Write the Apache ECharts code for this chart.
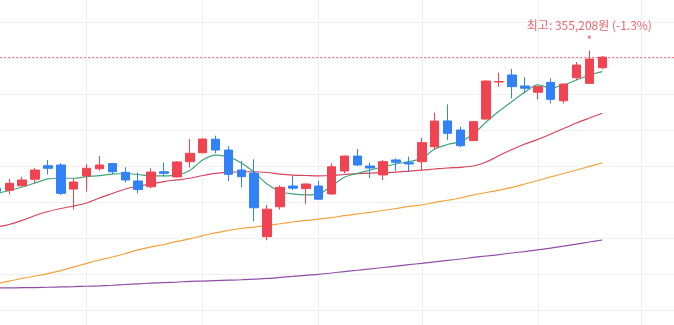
<!DOCTYPE html>
<html>
<head>
<meta charset="utf-8">
<style>
  html, body { margin: 0; padding: 0; background: #ffffff; }
  #chart { width: 674px; height: 325px; }
</style>
<script src="https://cdn.jsdelivr.net/npm/echarts@6/dist/echarts.min.js"></script>
</head>
<body>
<div id="chart"></div>
<script>
// Trading days on the x axis (a few empty days kept on the right)
const dates = [
  '07/31','08/01','08/04','08/05','08/06','08/07','08/08','08/11','08/12','08/13',
  '08/14','08/18','08/19','08/20','08/21','08/22','08/25','08/26','08/27','08/28',
  '08/29','09/01','09/02','09/03','09/04','09/05','09/08','09/09','09/10','09/11',
  '09/12','09/15','09/16','09/17','09/18','09/19','09/22','09/23','09/24','09/25',
  '09/26','09/29','09/30','10/01','10/02','10/10','10/13','10/14','10/15','10/16',
  '10/17','10/20','10/21','10/22'
];
// Days that get a vertical guide line
const guideDates = ['08/11', '08/25', '09/05', '09/17', '09/30', '10/17'];

// Daily prices (원)
const opens = [
  259500, 258100, 261300, 265800, 275200, 275700, 259000, 268100, 273100, 276700,
  270600, 264600, 260600, 271000, 267400, 278000, 284200, 293600, 286100, 272200,
  270100, 225900, 246700, 261100, 259400, 261100, 255600, 271500, 281900, 275000,
  268800, 279200, 277300, 278000, 288400, 306300, 300000, 292600, 307600, 333300,
  338200, 330600, 326200, 333100, 320300, 336300, 332400, 343300
];
const closes = [
  257500, 263000, 265300, 272200, 273400, 256000, 263900, 273400, 275700, 271000,
  265300, 258700, 270800, 269900, 277800, 283800, 293700, 286100, 269200, 267600,
  246000, 245000, 260200, 259600, 262500, 251900, 274500, 281900, 275700, 273600,
  278000, 277600, 276400, 291200, 306200, 297700, 289100, 305800, 334000, 333700,
  330100, 329000, 330100, 321300, 331900, 345100, 349300, 350590
];
const lows = [
  256000, 255300, 260900, 263000, 269200, 254900, 244800, 257200, 271700, 269400,
  263500, 256000, 259400, 267700, 267100, 274000, 283800, 283800, 264600, 260100,
  236600, 223400, 244700, 258300, 248400, 251800, 254900, 269900, 275000, 266500,
  265300, 271500, 270800, 272200, 286100, 293100, 288000, 292400, 307300, 330100,
  322000, 325500, 321300, 318500, 318500, 334700, 332100, 342200
];
const highs = [
  260500, 266000, 267600, 273600, 279200, 276900, 266500, 276400, 281900, 277100,
  274100, 270500, 273400, 277300, 278500, 293700, 294200, 296000, 288900, 278500,
  279700, 247900, 261600, 268300, 263000, 264600, 276900, 282300, 286800, 277300,
  279200, 280300, 281500, 294700, 312000, 317800, 302300, 306200, 334400, 339800,
  342400, 336600, 330200, 335900, 332300, 347200, 355208, 351400
];

// Moving averages
const ma5 = [
  255900, 258000, 260400, 263200, 266000, 266500, 266500, 267600, 268300, 269400,
  269800, 269100, 268100, 268100, 268800, 271900, 279200, 282600, 281300, 277100,
  270600, 262500, 257300, 255600, 254900, 255600, 261100, 267200, 269900, 272200,
  274500, 276400, 278000, 280300, 286800, 289900, 291900, 297200, 305600, 313200,
  319800, 326400, 331300, 329200, 331300, 334700, 338200, 340500
];
const ma20 = [
  232600, 234400, 237200, 240600, 243400, 245500, 247200, 249300, 252800, 255900,
  259000, 261100, 262500, 264200, 265300, 266500, 268400, 269900, 270600, 271000,
  271000, 270500, 269400, 268700, 268400, 268100, 268400, 269100, 269700, 270100,
  270300, 270800, 271500, 272200, 272900, 273600, 274100, 275000, 277800, 282300,
  286500, 290300, 293500, 297200, 301000, 304900, 308300, 311600
];
const ma60 = [
  193100, 195100, 196900, 198600, 200300, 202400, 204900, 207400, 209700, 211800,
  214200, 216700, 218800, 220500, 222600, 224400, 226700, 228500, 230300, 231600,
  232600, 233800, 234900, 236100, 237200, 238100, 239200, 240500, 241700, 242800,
  244100, 245500, 246900, 247900, 249700, 251200, 252800, 254900, 256600, 258300,
  260200, 262500, 264900, 267400, 269800, 272200, 274700, 277100
];
const ma120 = [
  190300, 190350, 190500, 190600, 190800, 191000, 191200, 191500, 191800, 192200,
  192700, 193200, 193600, 194000, 194400, 194900, 195100, 195400, 195700, 196000,
  196500, 196900, 197600, 198300, 199100, 199800, 200700, 201700, 202600, 203500,
  204500, 205500, 206500, 207400, 208400, 209400, 210400, 211500, 212500, 213500,
  214600, 215600, 216700, 218000, 219300, 220700, 222200, 223600
];

const UP = '#f04452';
const DOWN = '#3182f6';
const NOTE = '#e56a74';

const candles = opens.map((o, i) => [o, closes[i], lows[i], highs[i]]);

// Highest high and its distance from the latest close
let hiIdx = 0;
highs.forEach((h, i) => { if (h > highs[hiIdx]) hiIdx = i; });
const hiVal = highs[hiIdx];
const lastClose = closes[closes.length - 1];
const pct = (lastClose - hiVal) / hiVal * 100;
const hiText = '최고: ' + hiVal.toLocaleString('ko-KR') + '원 (' + pct.toFixed(1) + '%)';

function maLine(name, data, color) {
  return {
    name: name,
    type: 'line',
    data: data,
    symbol: 'none',
    smooth: 0.3,
    z: 2,
    silent: true,
    lineStyle: { color: color, width: 1.2 }
  };
}

const chart = echarts.init(document.getElementById('chart'), null, { renderer: 'canvas' });
chart.setOption({
  animation: false,
  backgroundColor: '#ffffff',
  textStyle: { fontFamily: '"Noto Sans CJK KR", "Noto Sans", sans-serif' },
  grid: {
    left: -3.6, top: -14, width: 683.2, height: 360,
    containLabel: false,
    outerBoundsMode: 'none'
  },
  xAxis: {
    type: 'category',
    data: dates,
    boundaryGap: false,
    axisLine: { show: false },
    axisTick: { show: false },
    axisLabel: { show: false },
    splitLine: {
      show: true,
      interval: (idx, val) => guideDates.indexOf(val) >= 0,
      lineStyle: { color: '#f0f0f0', width: 1 }
    }
  },
  yAxis: {
    type: 'value',
    min: 150000,
    max: 400000,
    interval: 25000,
    axisLine: { show: false },
    axisTick: { show: false },
    axisLabel: { show: false },
    splitLine: { show: true, lineStyle: { color: '#f0f0f0', width: 1 } }
  },
  series: [
    maLine('MA120', ma120, '#8e4ea8'),
    maLine('MA60', ma60, '#f3a23c'),
    maLine('MA20', ma20, '#d6455c'),
    maLine('MA5', ma5, '#3fa67c'),
    {
      name: '일봉',
      type: 'candlestick',
      data: candles,
      barWidth: 9,
      z: 3,
      itemStyle: {
        color: UP,
        color0: DOWN,
        borderColor: UP,
        borderColor0: DOWN,
        borderWidth: 1
      },
      markLine: {
        silent: true,
        symbol: ['none', 'none'],
        label: { show: false },
        lineStyle: { color: '#f04452', type: [1.5, 2.5], width: 1.2, opacity: 1 },
        data: [{ yAxis: lastClose }]
      },
      markPoint: {
        silent: true,
        symbol: 'circle',
        symbolSize: 0,
        data: [
          {
            coord: [dates[hiIdx], hiVal],
            label: {
              show: true,
              position: 'inside',
              offset: [0, -25],
              formatter: hiText,
              color: NOTE,
              fontSize: 12,
              fontFamily: '"Noto Sans CJK KR", sans-serif'
            }
          },
          {
            coord: [dates[hiIdx], hiVal],
            label: {
              show: true,
              position: 'inside',
              offset: [0, -10.5],
              formatter: '*',
              color: NOTE,
              fontSize: 12,
              fontFamily: '"Noto Sans CJK KR", sans-serif'
            }
          }
        ]
      }
    }
  ]
});
</script>
</body>
</html>
